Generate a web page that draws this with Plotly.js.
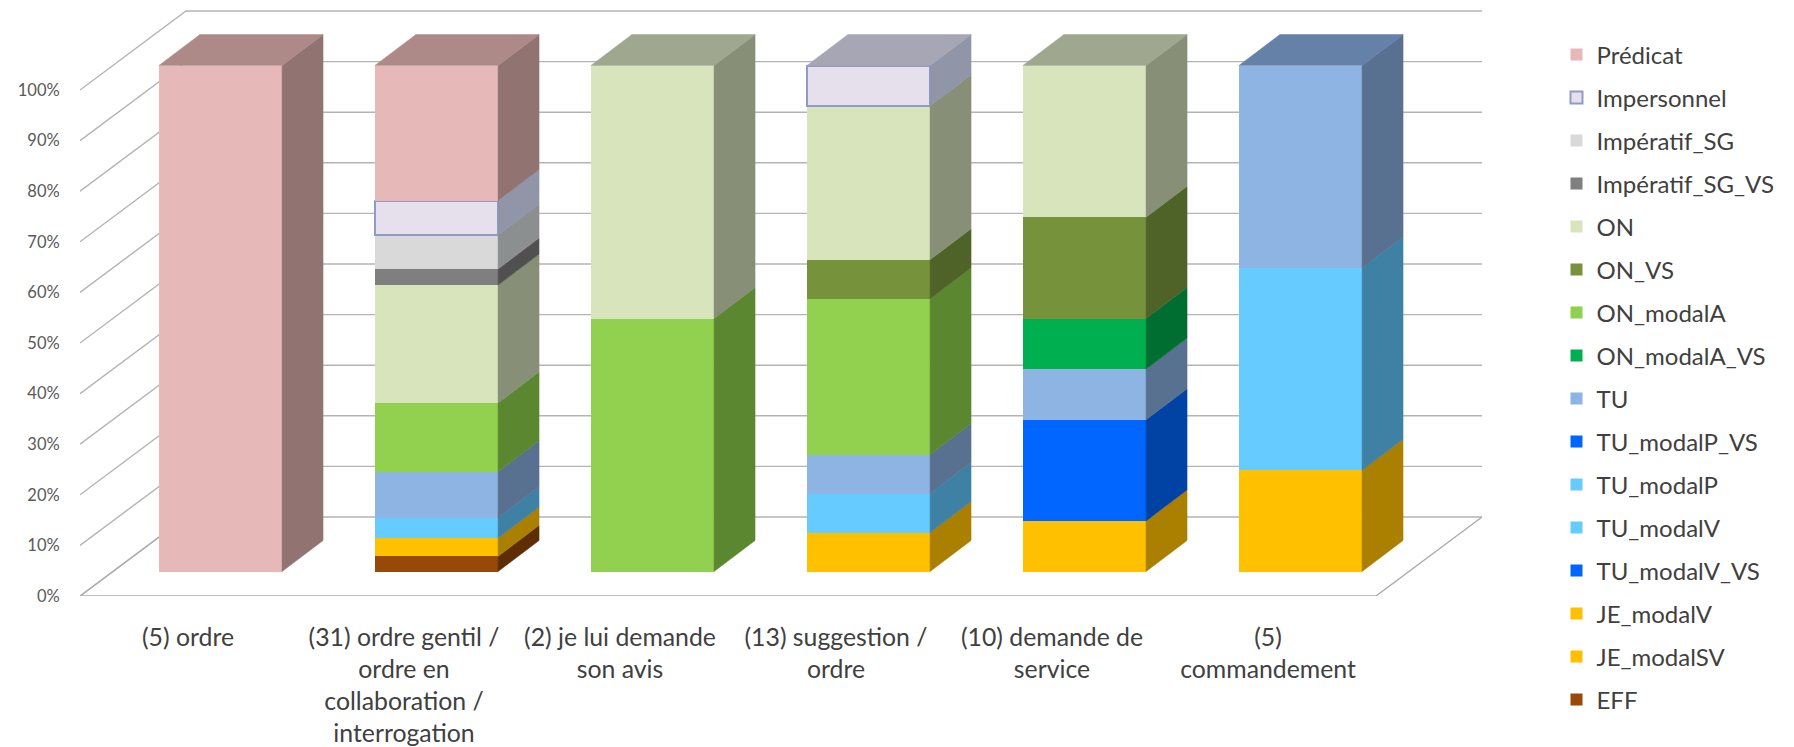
<!DOCTYPE html>
<html>
<head>
<meta charset="utf-8">
<script src="https://cdn.plot.ly/plotly-3.0.1.min.js"></script>
<style>html,body{margin:0;padding:0;background:#fff}</style>
</head>
<body>
<div id="chart" style="width:1794px;height:747px"></div>
<script>
const categories = [
  ["(5) ordre"],
  ["(31) ordre gentil /", "ordre en", "collaboration /", "interrogation"],
  ["(2) je lui demande", "son avis"],
  ["(13) suggestion /", "ordre"],
  ["(10) demande de", "service"],
  ["(5)", "commandement"]
];
const percentTicks = [0, 10, 20, 30, 40, 50, 60, 70, 80, 90, 100];

// values per category, in percent of each stacked column
const EFF          = [0, 3, 0, 0, 0, 0];
const JE_modalSV   = [0, 0, 0, 0, 0, 0];
const JE_modalV    = [0, 3.6, 0, 7.7, 10, 20];
const TU_modalV_VS = [0, 0, 0, 0, 0, 0];
const TU_modalV    = [0, 0, 0, 0, 0, 0];
const TU_modalP    = [0, 4, 0, 7.7, 0, 40];
const TU_modalP_VS = [0, 0, 0, 0, 20, 0];
const TU           = [0, 9.1, 0, 7.7, 10, 40];
const ON_modalA_VS = [0, 0, 0, 0, 10, 0];
const ON_modalA    = [0, 13.6, 50, 30.8, 0, 0];
const ON_VS        = [0, 0, 0, 7.7, 20, 0];
const ON           = [0, 23.3, 50, 30.4, 30, 0];
const Imperatif_SG_VS = [0, 3.2, 0, 0, 0, 0];
const Imperatif_SG = [0, 6.7, 0, 0, 0, 0];
const Impersonnel  = [null, 6.8, null, 8, null, null];
const Predicat     = [100, 26.7, 0, 0, 0, 0];

// bottom of the stack first
const seriesNames = ["EFF","JE_modalSV","JE_modalV","TU_modalV_VS","TU_modalV","TU_modalP","TU_modalP_VS","TU","ON_modalA_VS","ON_modalA","ON_VS","ON","Impératif_SG_VS","Impératif_SG","Impersonnel","Prédicat"];
const seriesValues = [EFF,JE_modalSV,JE_modalV,TU_modalV_VS,TU_modalV,TU_modalP,TU_modalP_VS,TU,ON_modalA_VS,ON_modalA,ON_VS,ON,Imperatif_SG_VS,Imperatif_SG,Impersonnel,Predicat];
const frontColors = ["#984807","#FFC000","#FFC000","#0066FF","#66CCFF","#66CCFF","#0066FF","#8DB4E2","#00B050","#92D050","#76933C","#D8E4BC","#7F7F7F","#D9D9D9","#E6E0EC","#E6B8B7"];
const sideColors  = ["#5F2D04","#AB8000","#AB8000","#0043A5","#3F80A5","#3F80A5","#0043A5","#587190","#006E31","#5B8731","#4F6228","#878F76","#505050","#8C8F90","#9095A8","#917472"];
const topColors   = ["#7A3A06","#C89A00","#C89A00","#0050C0","#5098C0","#5098C0","#0050C0","#6581A8","#008A40","#74A540","#5F7530","#9FA78F","#666666","#ABABAB","#A6A6B5","#AD8A88"];

// projection of the oblique view, in axis units
const catPx = 216, pctPx = 5.06;
const plotLeft = 80, plotRight = 1500, plotBottom = 596;
const xMax = (plotRight - plotLeft) / catPx;
const yMax = plotBottom / pctPx;
const wallDx = 106 / catPx, wallDy = 79 / pctPx;       // floor depth
const shiftX = 32.5 / catPx, shiftY = 24.5 / pctPx;    // columns stand mid-floor
const depthX = 41 / catPx, depthY = 31 / pctPx;        // column depth
const gap = 0.43, halfBar = (1 - gap) / 2;
const nCat = categories.length;
const xPos = categories.map((_, i) => i + 0.5);

const traces = [];

// walls and floor
const gridX = [], gridY = [];
percentTicks.forEach(v => {
  gridX.push(0, wallDx, nCat + wallDx, null);
  gridY.push(v, v + wallDy, v + wallDy, null);
});
traces.push({type:"scatter", mode:"lines", x:gridX, y:gridY, showlegend:false, hoverinfo:"skip",
  line:{color:"#B4B4B4", width:1.4}});
traces.push({type:"scatter", mode:"lines", x:[wallDx, 0, nCat, nCat + wallDx], y:[wallDy, 0, 0, wallDy],
  showlegend:false, hoverinfo:"skip", line:{color:"#ABABAB", width:1.4}});

// front faces
seriesNames.forEach((name, s) => {
  const isBoxed = name === "Impersonnel";
  traces.push({
    type:"bar", name, x:xPos, y:seriesValues[s], xaxis:"x2", yaxis:"y2",
    legendgroup:name, legendrank:seriesNames.length - s, hoverinfo:"x+y+name",
    marker:{color:frontColors[s], line:{color:isBoxed ? "#8E9CC6" : frontColors[s], width:isBoxed ? 2 : 0}}
  });
});

// side faces, computed from the stacked values
const running = categories.map(() => 0);
const topOf = categories.map(() => -1);
seriesNames.forEach((name, s) => {
  const px = [], py = [];
  seriesValues[s].forEach((v, c) => {
    if (!v) return;
    const x1 = xPos[c] + halfBar, lo = running[c], hi = lo + v;
    px.push(x1, x1 + depthX, x1 + depthX, x1, x1, null);
    py.push(lo, lo + depthY, hi + depthY, hi, lo, null);
    running[c] = hi;
    topOf[c] = s;
  });
  if (px.length) traces.push({type:"scatter", mode:"lines", x:px, y:py, xaxis:"x2", yaxis:"y2",
    fill:"toself", fillcolor:sideColors[s], line:{color:sideColors[s], width:0.5},
    showlegend:false, hoverinfo:"skip"});
});

// top faces
categories.forEach((_, c) => {
  const s = topOf[c], x0 = xPos[c] - halfBar, x1 = xPos[c] + halfBar, h = running[c];
  traces.push({type:"scatter", mode:"lines", xaxis:"x2", yaxis:"y2",
    x:[x0, x1, x1 + depthX, x0 + depthX, x0], y:[h, h, h + depthY, h + depthY, h],
    fill:"toself", fillcolor:topColors[s], line:{color:topColors[s], width:0.5},
    showlegend:false, hoverinfo:"skip"});
});

const fontFamily = "Lato, 'Open Sans', sans-serif";
const layout = {
  width:1794, height:747, paper_bgcolor:"#fff", plot_bgcolor:"rgba(0,0,0,0)",
  margin:{l:plotLeft, r:1794 - plotRight, t:0, b:747 - plotBottom, autoexpand:false},
  barmode:"stack", bargap:gap, showlegend:true,
  font:{family:fontFamily, color:"#404040"},
  xaxis:{range:[0, xMax], showgrid:false, zeroline:false, showline:false,
    tickmode:"array", tickvals:xPos,
    ticktext:categories.map(lines => lines.join("<br>")),
    ticks:"outside", ticklen:19, tickcolor:"rgba(0,0,0,0)", tickangle:0,
    tickfont:{size:24.8, color:"#404040", family:fontFamily}},
  yaxis:{range:[0, yMax], showgrid:false, zeroline:false, showline:false,
    tickmode:"array", tickvals:percentTicks, ticktext:percentTicks.map(v => v + "%"),
    ticks:"outside", ticklen:16, tickcolor:"rgba(0,0,0,0)",
    tickfont:{size:16.5, color:"#595959", family:fontFamily}},
  xaxis2:{range:[-shiftX, xMax - shiftX], overlaying:"x", visible:false},
  yaxis2:{range:[-shiftY, yMax - shiftY], overlaying:"y", visible:false},
  legend:{x:(1556.5 - plotLeft) / (plotRight - plotLeft), xanchor:"left", y:(plotBottom - 32.5) / plotBottom, yanchor:"top",
    traceorder:"grouped", tracegroupgap:8.8, maxheight:720, font:{size:24, color:"#404040", family:fontFamily},
    bgcolor:"rgba(0,0,0,0)", itemclick:false, itemdoubleclick:false}
};
Plotly.newPlot("chart", traces, layout, {displayModeBar:false, responsive:false});
</script>
</body>
</html>
